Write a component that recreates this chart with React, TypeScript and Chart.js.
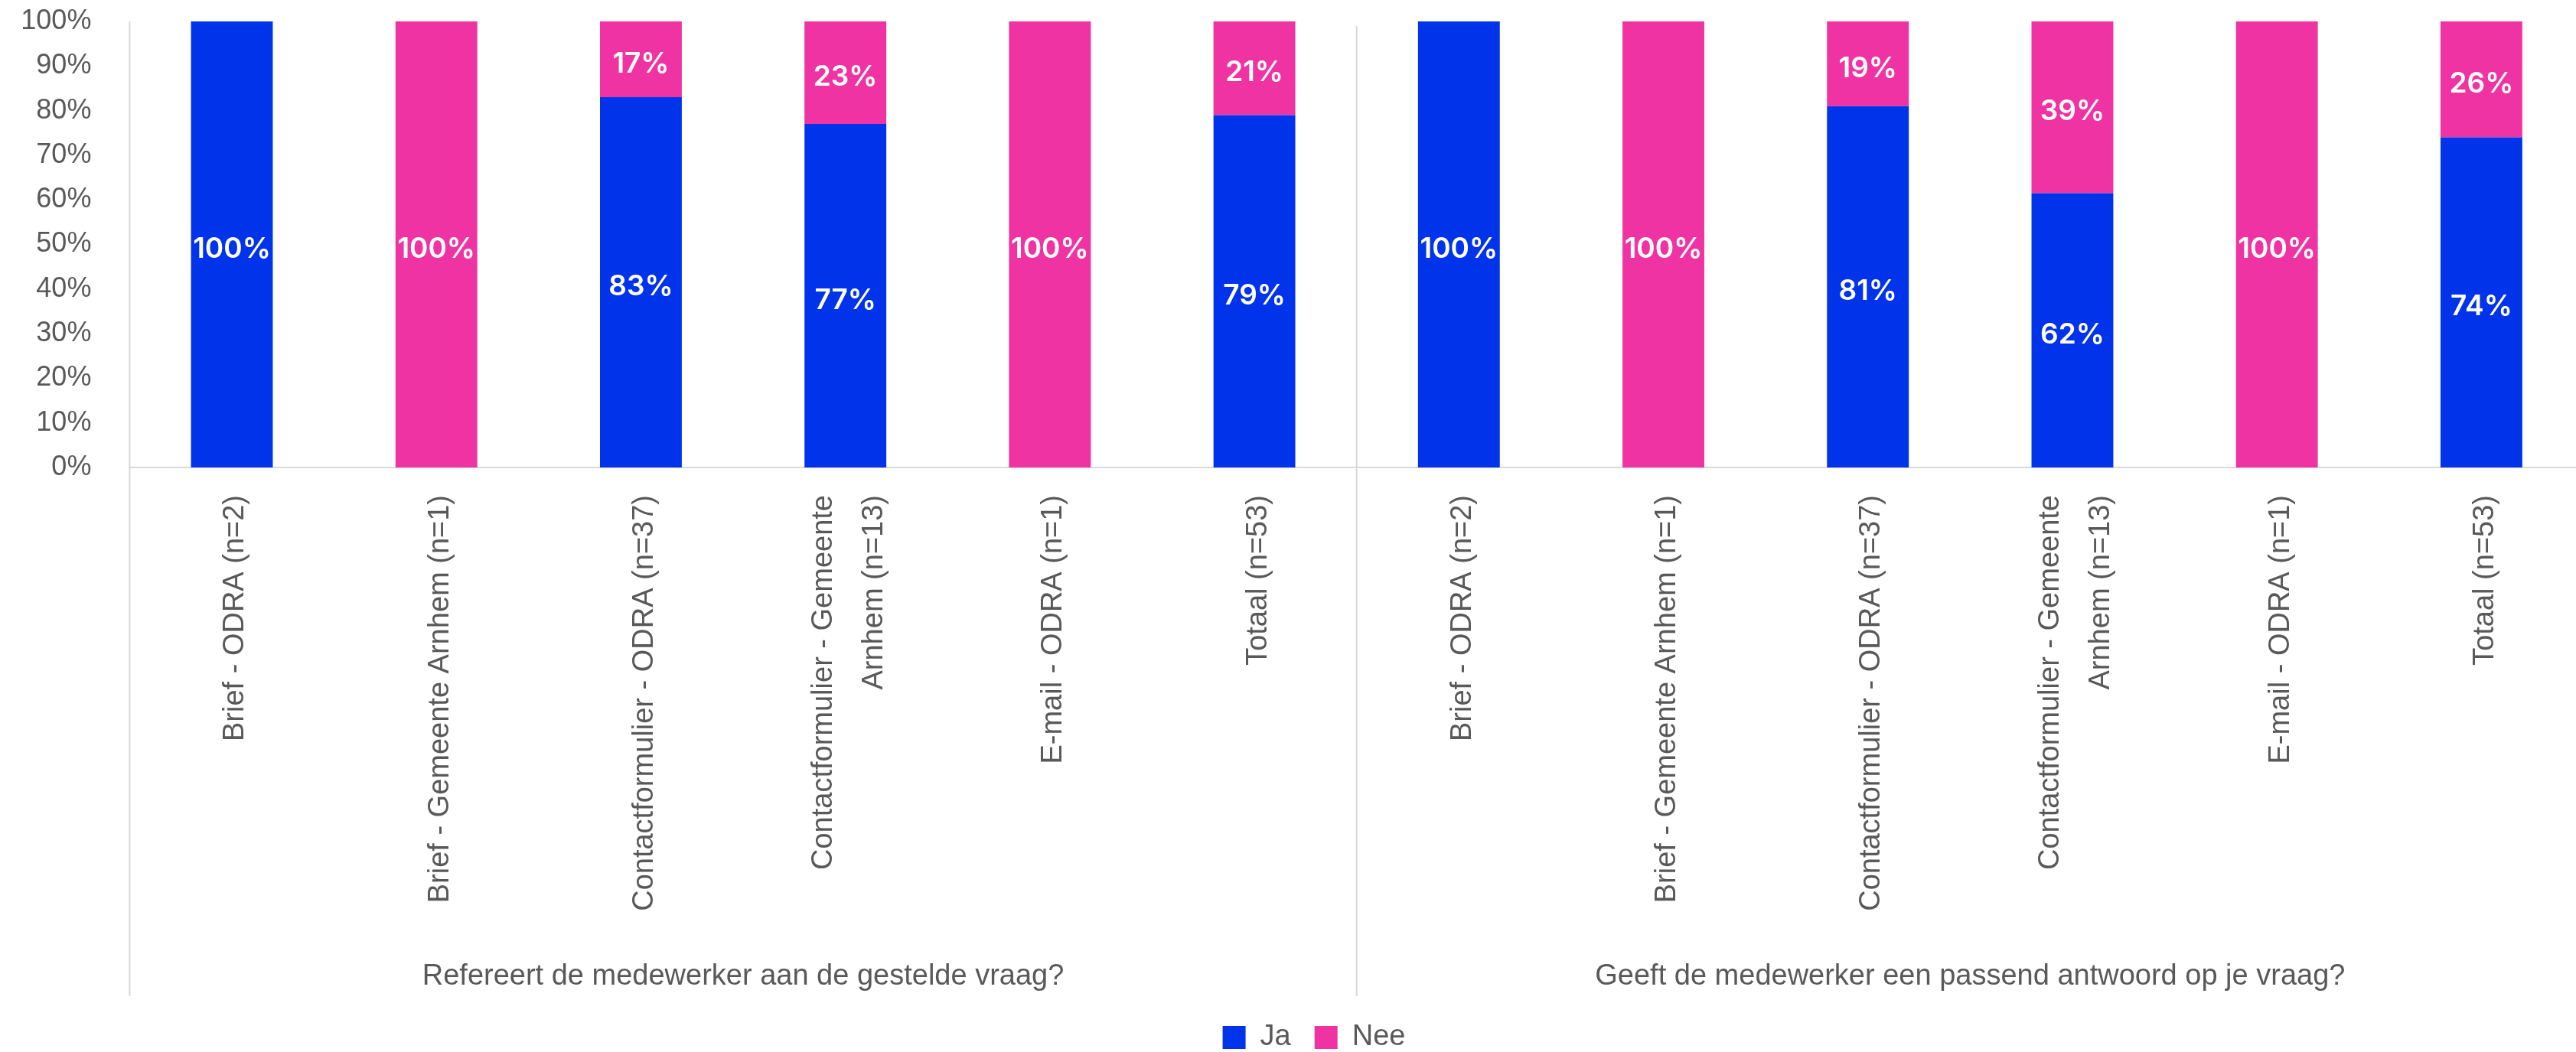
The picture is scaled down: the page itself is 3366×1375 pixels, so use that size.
import React, { useEffect, useRef } from "react";
import { Chart, registerables } from "chart.js";

Chart.register(...registerables);

// ---------- data ----------
const categoryLabels: (string | string[])[] = [
  "Brief - ODRA (n=2)",
  "Brief - Gemeente Arnhem (n=1)",
  "Contactformulier - ODRA (n=37)",
  ["Contactformulier - Gemeente", "Arnhem (n=13)"],
  "E-mail - ODRA (n=1)",
  "Totaal (n=53)",
  "Brief - ODRA (n=2)",
  "Brief - Gemeente Arnhem (n=1)",
  "Contactformulier - ODRA (n=37)",
  ["Contactformulier - Gemeente", "Arnhem (n=13)"],
  "E-mail - ODRA (n=1)",
  "Totaal (n=53)",
];

const groupLabels = [
  "Refereert de medewerker aan de gestelde vraag?",
  "Geeft de medewerker een passend antwoord op je vraag?",
];
const groupSizes = [6, 6];

const seriesNames = ["Ja", "Nee"];
const jaValues = [100, 0, 83, 77, 0, 79, 100, 0, 81, 61.5, 0, 74];
const neeValues = [0, 100, 17, 23, 100, 21, 0, 100, 19, 38.5, 100, 26];

const yTickValues = [0, 10, 20, 30, 40, 50, 60, 70, 80, 90, 100];

// ---------- styles ----------
const BLUE = "#0033EA";
const PINK = "#F033A3";
const TEXT = "#595959";
const LINE = "#D9D9D9";
const SANS = "'Liberation Sans', Arial, sans-serif";
const LABEL_FONT = "600 37px Inter, 'Liberation Sans', sans-serif";

const overlayPlugin = {
  id: "overlay",
  afterDatasetsDraw(chart: any) {
    const { ctx } = chart;
    ctx.save();
    ctx.fillStyle = "#FFFFFF";
    ctx.font = LABEL_FONT;
    ctx.textAlign = "center";
    ctx.textBaseline = "middle";
    chart.data.datasets.forEach((ds: any, di: number) => {
      const meta = chart.getDatasetMeta(di);
      meta.data.forEach((bar: any, i: number) => {
        const v = ds.data[i];
        if (!v) return;
        const y = (bar.y + bar.base) / 2 + 6;
        ctx.fillText(Math.round(v) + "%", bar.x, y);
      });
    });
    ctx.restore();
  },
  afterDraw(chart: any) {
    const { ctx, chartArea } = chart;
    const xs = chart.scales.x;
    const lineBottom = xs.bottom - 4;
    ctx.save();
    // vertical axis / group separator lines
    ctx.strokeStyle = LINE;
    ctx.lineWidth = 2;
    ctx.beginPath();
    ctx.moveTo(chartArea.left, chartArea.top);
    ctx.lineTo(chartArea.left, lineBottom);
    let idx = 0;
    const bounds: number[] = [chartArea.left];
    groupSizes.forEach((n) => {
      idx += n;
      let bx: number;
      if (idx < categoryLabels.length) {
        bx = (xs.getPixelForTick(idx - 1) + xs.getPixelForTick(idx)) / 2;
        ctx.moveTo(bx, chartArea.top + 6);
        ctx.lineTo(bx, lineBottom);
      } else {
        bx = chartArea.right;
        ctx.moveTo(bx, chartArea.top);
        ctx.lineTo(bx, lineBottom);
      }
      bounds.push(bx);
    });
    ctx.stroke();

    // category labels (rotated)
    ctx.fillStyle = TEXT;
    ctx.font = "38px " + SANS;
    ctx.textAlign = "right";
    ctx.textBaseline = "middle";
    const lh = 66;
    categoryLabels.forEach((lab, i) => {
      const lines = Array.isArray(lab) ? lab : [lab];
      const px = xs.getPixelForTick(i);
      lines.forEach((ln, j) => {
        const cx = px + (j - (lines.length - 1) / 2) * lh + 5;
        ctx.save();
        ctx.translate(cx, chartArea.bottom + 36);
        ctx.rotate(-Math.PI / 2);
        ctx.fillText(ln, 0, 0);
        ctx.restore();
      });
    });

    // group labels
    ctx.textAlign = "center";
    ctx.textBaseline = "alphabetic";
    groupLabels.forEach((g, k) => {
      const cx = (bounds[k] + bounds[k + 1]) / 2;
      ctx.fillText(g, cx, xs.bottom - 19);
    });
    ctx.restore();
  },
};

export default function App() {
  const ref = useRef<HTMLCanvasElement | null>(null);

  useEffect(() => {
    if (!ref.current) return;
    Chart.defaults.font.family = SANS;
    const chart = new Chart(ref.current, {
      type: "bar",
      data: {
        labels: categoryLabels as any,
        datasets: [
          {
            label: seriesNames[0],
            data: jaValues,
            backgroundColor: BLUE,
            borderWidth: 0,
            barPercentage: 0.4,
            categoryPercentage: 1,
          },
          {
            label: seriesNames[1],
            data: neeValues,
            backgroundColor: PINK,
            borderWidth: 0,
            barPercentage: 0.4,
            categoryPercentage: 1,
          },
        ],
      },
      options: {
        responsive: false,
        animation: false,
        devicePixelRatio: 1,
        layout: { padding: { left: 0, right: 0, top: 28, bottom: 0 } },
        plugins: {
          legend: {
            position: "bottom",
            labels: {
              boxWidth: 30,
              boxHeight: 30,
              padding: 31,
              color: TEXT,
              font: { size: 38, family: SANS },
            },
          },
          tooltip: { enabled: false },
        },
        scales: {
          x: {
            stacked: true,
            grid: { display: false, drawTicks: false },
            border: { display: true, color: LINE, width: 2 },
            ticks: { display: false },
            afterFit: (s: any) => {
              s.height = 695;
              s.paddingLeft = 0;
              s.paddingRight = 0;
            },
          },
          y: {
            stacked: true,
            min: 0,
            max: 100,
            afterBuildTicks: (s: any) => {
              s.ticks = yTickValues.map((v) => ({ value: v }));
            },
            grid: { display: false, drawTicks: false },
            border: { display: false },
            ticks: {
              padding: 50,
              color: TEXT,
              font: { size: 36, family: SANS },
              callback: (v: any) => v + "%",
            },
            afterFit: (s: any) => {
              s.width = 169.4;
              s.paddingTop = 0;
              s.paddingBottom = 0;
            },
          },
          yRight: {
            position: "right",
            display: true,
            grid: { display: false, drawTicks: false },
            border: { display: false },
            ticks: { display: false },
            afterFit: (s: any) => {
              s.width = 58;
              s.paddingTop = 0;
              s.paddingBottom = 0;
            },
          },
        },
      },
      plugins: [overlayPlugin],
    });
    return () => chart.destroy();
  }, []);

  return (
    <div
      style={{
        position: "fixed",
        left: 0,
        top: 0,
        width: 3366,
        height: 1375,
        overflow: "hidden",
        background: "#fff",
      }}
    >
      <canvas ref={ref} width={3434} height={1385} style={{ display: "block" }} />
    </div>
  );
}
